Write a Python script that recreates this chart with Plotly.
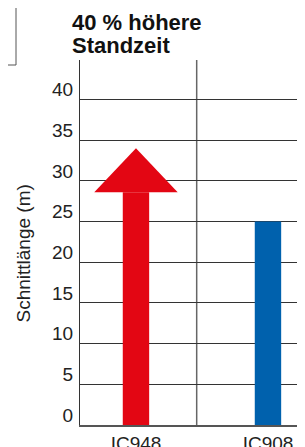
import plotly.graph_objects as go

categories = ["IC948", "IC908"]
cat_pos = [0, 1]
shaft_top = [28.6, 25]          # bar heights (IC948 shaft up to arrow head base, IC908 value)
arrow_tip = 34                  # tip of the IC948 arrow
y_ticks = [0, 5, 10, 15, 20, 25, 30, 35, 40]
title_lines = ["40 % höhere", "Standzeit"]
y_title = "Schnittlänge (m)"

RED = "#E30613"
BLUE = "#0061AD"
FONT = "Liberation Sans, Arial, sans-serif"

fig = go.Figure()
fig.add_trace(go.Bar(x=[cat_pos[0]], y=[shaft_top[0]], width=0.2,
                     marker=dict(color=RED, line=dict(width=0)), hoverinfo="skip"))
fig.add_trace(go.Bar(x=[cat_pos[1]], y=[shaft_top[1]], width=0.2,
                     marker=dict(color=BLUE, line=dict(width=0)), hoverinfo="skip"))
head_half = 0.316
fig.add_trace(go.Scatter(x=[cat_pos[0] - head_half, cat_pos[0], cat_pos[0] + head_half, cat_pos[0] - head_half],
                         y=[shaft_top[0], arrow_tip, shaft_top[0], shaft_top[0]],
                         mode="lines", fill="toself", fillcolor=RED,
                         line=dict(color=RED, width=0), hoverinfo="skip"))

PW = 233  # plot width in px
fig.update_layout(
    width=305, height=447,
    margin=dict(l=72, r=0, t=52, b=30),
    plot_bgcolor="white", paper_bgcolor="white",
    showlegend=False,
    font=dict(family=FONT, color="#222"),
    xaxis=dict(range=[-0.424, -0.424 + PW / 132], tickvals=cat_pos, ticktext=categories,
               showgrid=False, zeroline=False, showline=True, linecolor="#555", linewidth=2,
               ticks="", tickfont=dict(size=19, family=FONT, color="#222")),
    yaxis=dict(range=[0, 44.85], tickvals=y_ticks, showgrid=True, gridcolor="#333", gridwidth=1,
               zeroline=False, showline=True, linecolor="#333", linewidth=1,
               ticks="", ticklabelshift=-10, ticklabelstandoff=2,
               tickfont=dict(size=19, family=FONT, color="#222")),
    shapes=[
        dict(type="line", xref="x", yref="paper", x0=0.46, x1=0.46, y0=0, y1=1,
             line=dict(color="#666", width=1.5), layer="below"),
        dict(type="line", xref="paper", yref="paper", x0=-64 / PW, x1=-64 / PW,
             y0=0.9863, y1=1.2, line=dict(color="#555", width=1)),
        dict(type="line", xref="paper", yref="paper", x0=-0.4, x1=-64 / PW,
             y0=0.9863, y1=0.9863, line=dict(color="#555", width=1)),
    ],
    annotations=[
        dict(text=title_lines[0], xref="paper", yref="paper", x=-10 / PW, y=(425 - 22.5) / 365,
             xanchor="left", yanchor="middle", showarrow=False,
             font=dict(size=22, family=FONT, color="#111", weight="bold")),
        dict(text=title_lines[1], xref="paper", yref="paper", x=-10 / PW, y=(425 - 46) / 365,
             xanchor="left", yanchor="middle", showarrow=False,
             font=dict(size=22, family=FONT, color="#111", weight="bold")),
        dict(text=y_title, xref="paper", yref="paper", x=-57 / PW, y=(425 - 253.5) / 365,
             xanchor="center", yanchor="middle", textangle=-90, showarrow=False,
             font=dict(size=19, family=FONT, color="#222")),
    ],
)

fig.write_html("out.html")
